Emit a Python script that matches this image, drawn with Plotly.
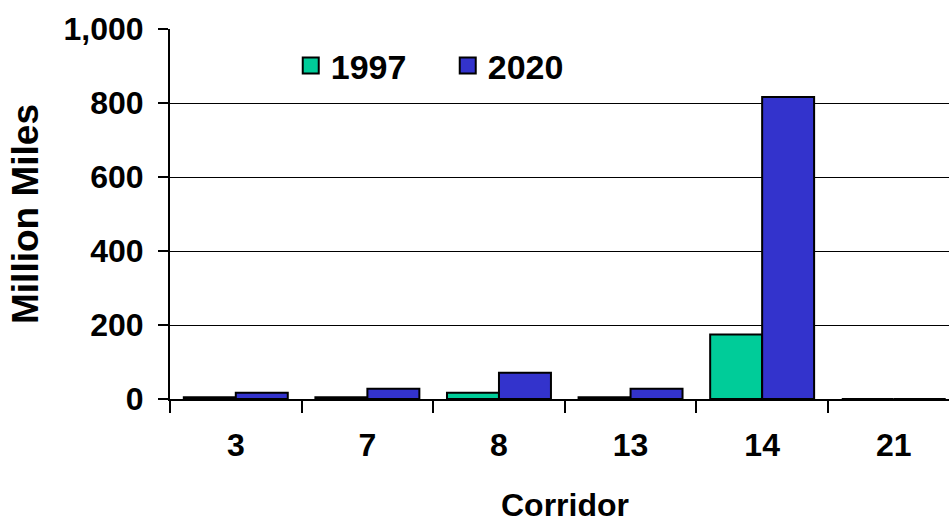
import plotly.graph_objects as go

# Vehicle miles travelled by corridor (million miles)
corridors = ["3", "7", "8", "13", "14", "21"]
miles_1997 = [5, 5, 17, 5, 174, 0]
miles_2020 = [17, 28, 71, 28, 816, 0]
y_ticks = [0, 200, 400, 600, 800, 1000]
y_tick_text = ["0", "200", "400", "600", "800", "1,000"]

COLOR_1997 = "#00CC99"
COLOR_2020 = "#3333CC"
FONT = "Liberation Sans, Arial, sans-serif"

fig = go.Figure()
fig.add_trace(go.Bar(x=corridors, y=miles_1997, name="1997",
                     marker=dict(color=COLOR_1997, line=dict(color="black", width=2)),
                     showlegend=False))
fig.add_trace(go.Bar(x=corridors, y=miles_2020, name="2020",
                     marker=dict(color=COLOR_2020, line=dict(color="black", width=2)),
                     showlegend=False))

# Legend entries with larger square swatches
for name, col in [("1997", COLOR_1997), ("2020", COLOR_2020)]:
    fig.add_trace(go.Scatter(x=[None], y=[None], mode="markers", name=name,
                             marker=dict(symbol="square", size=16, color=col,
                                         line=dict(color="black", width=2))))

# Axis title for the category axis, centred on the full category span
fig.add_annotation(text="Corridor", xref="paper", yref="paper",
                   x=0.507, y=-0.287, xanchor="center", yanchor="middle",
                   showarrow=False, font=dict(size=32, weight="bold"))

fig.update_layout(
    width=949, height=525,
    margin=dict(l=170, r=0, t=29, b=126),
    paper_bgcolor="white", plot_bgcolor="white",
    barmode="group", bargap=0.21, bargroupgap=0,
    font=dict(family=FONT, color="black", size=32, weight="bold"),
    legend=dict(orientation="h", x=0.155, y=0.9, xanchor="left", yanchor="middle",
                font=dict(size=34, weight="bold"), itemsizing="trace",
                entrywidth=112, entrywidthmode="pixels", bgcolor="rgba(0,0,0,0)"),
    xaxis=dict(
        type="category", range=[-0.5, 5.42],
        showline=True, linecolor="black", linewidth=2,
        ticks="outside", tickson="boundaries", ticklen=12, tickwidth=2, tickcolor="black",
        showgrid=False, ticklabelstandoff=17,
        tickfont=dict(size=32, weight="bold"),
    ),
    yaxis=dict(
        range=[0, 1000], tickvals=y_ticks, ticktext=y_tick_text,
        showline=True, linecolor="black", linewidth=2,
        ticks="outside", ticklen=10, tickwidth=2, tickcolor="black",
        showgrid=True, gridcolor="black", gridwidth=1,
        zeroline=False, ticklabelstandoff=8,
        tickfont=dict(size=32, weight="bold"),
        title=dict(text="Million Miles", font=dict(size=37, weight="bold"), standoff=14),
    ),
)

fig.write_html("out.html")
